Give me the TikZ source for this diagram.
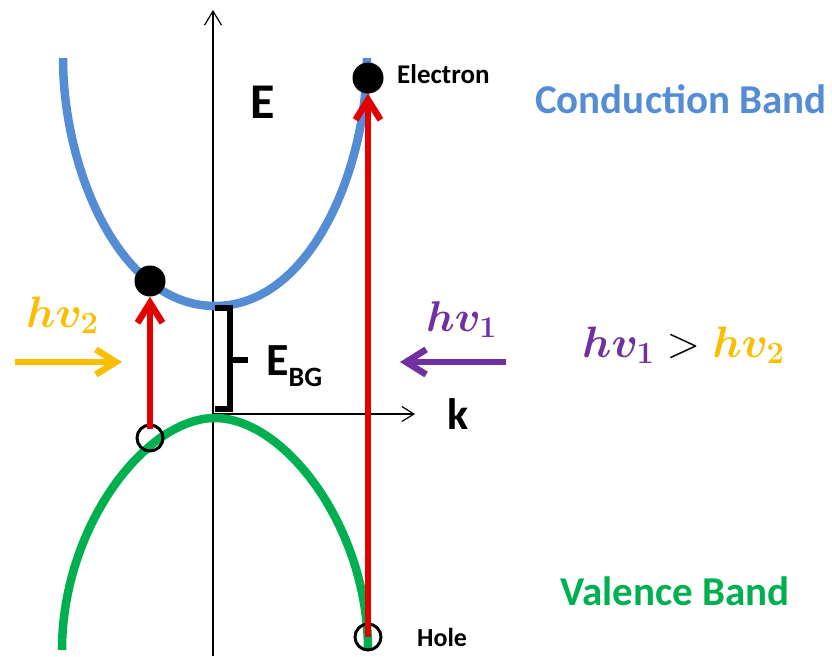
\RequirePackage{fix-cm}
\documentclass[tikz,border=0pt]{standalone}
\usepackage{fontspec}
\usepackage{amsmath}
\newfontfamily\calib{Carlito}
\usetikzlibrary{arrows.meta}
\definecolor{cbblue}{RGB}{84,141,212}
\definecolor{vbgreen}{RGB}{0,176,80}
\definecolor{arrred}{RGB}{226,0,0}
\definecolor{orng}{RGB}{250,190,0}
\definecolor{purp}{RGB}{112,48,160}
\begin{document}
\begin{tikzpicture}[x=1pt,y=-1pt,
  axisline/.style={line width=1.2pt},
  band/.style={line width=8.5pt},
  photon/.style={line width=6.5pt, arrred, -{Straight Barb[length=20pt,width=25pt]}},
  light/.style={line width=6.5pt, -{Straight Barb[length=20pt,width=25pt]}},
  dotnode/.style={circle, fill=black, inner sep=0pt, minimum size=31pt},
  holenode/.style={circle, draw=black, line width=3pt, inner sep=0pt, minimum size=26pt},
  sanslabel/.style={font=\calib\bfseries, inner sep=0pt, anchor=base west},
  mathlabel/.style={inner sep=0pt, anchor=base west}
]
\useasboundingbox (0,0) rectangle (832,656);

% axes
\coordinate (ybot) at (213,656);
\coordinate (ytop) at (213,10);
\coordinate (origin) at (213,414);
\coordinate (xend) at (415,414);
\draw[axisline, -{Straight Barb[length=14pt,width=17pt]}] (ybot) -- (ytop);
\draw[axisline, -{Straight Barb[length=12pt,width=15pt]}] (origin) -- (xend);

% bands
\draw[band, cbblue] (63,58) .. controls (63,170) and (120,306) .. (215,306)
                      .. controls (310,306) and (367,170) .. (367,58);
\draw[band, vbgreen] (62,650) .. controls (62,528) and (145,418) .. (215,418)
                      .. controls (285,418) and (368,528) .. (368,650);

% band gap bracket
\draw[line width=5.5pt, line join=miter] (215,308) -- (230,308) -- (230,409) -- (215,409);
\draw[line width=5.5pt] (230,360) -- (248,360);

% electrons and holes
\node[dotnode] (e2) at (150,281) {};
\node[dotnode] (e1) at (368,78) {};
\node[holenode] (h2) at (150,438) {};
\node[holenode] (h1) at (368,637) {};

% transitions
\draw[photon, shorten <=9pt] (h2.center) -- (e2.south);
\draw[photon] (h1.center) -- (e1.south);

% incoming light
\coordinate (l2a) at (15,362);
\coordinate (l2b) at (122,362);
\coordinate (l1a) at (506,362);
\coordinate (l1b) at (400,362);
\draw[light, orng] (l2a) -- (l2b);
\draw[light, purp] (l1a) -- (l1b);

% labels
\node[sanslabel, font=\calib\bfseries\fontsize{50}{50}\selectfont] (Elab) at (250,118) {E};
\node[sanslabel, font=\calib\bfseries\fontsize{44}{44}\selectfont] (klab) at (447,429) {k};
\node[sanslabel] (EBG) at (266,375) {\fontsize{46}{46}\selectfont E\raisebox{-11pt}{\fontsize{28}{28}\selectfont BG}};
\node[sanslabel, font=\calib\bfseries\fontsize{27}{27}\selectfont] (elab) at (397,83) {Electron};
\node[sanslabel, font=\calib\bfseries\fontsize{26}{26}\selectfont] (hlab) at (417,646) {Hole};
\node[sanslabel, font=\calib\bfseries\fontsize{41}{41}\selectfont, text=cbblue] (cb) at (535,113) {Conduction Band};
\node[sanslabel, font=\calib\bfseries\fontsize{41}{41}\selectfont, text=vbgreen] (vb) at (560,605) {Valence Band};
\node[mathlabel, font=\fontsize{44}{44}\selectfont, text=orng] (hv2) at (26,327) {$\boldsymbol{hv_2}$};
\node[mathlabel, font=\fontsize{43}{43}\selectfont, text=purp] (hv1) at (426,331) {$\boldsymbol{hv_1}$};
\node[mathlabel, font=\fontsize{44}{44}\selectfont] (cmp) at (582,357)
  {$\textcolor{purp}{\boldsymbol{hv_1}} > \textcolor{orng}{\boldsymbol{hv_2}}$};
\end{tikzpicture}
\end{document}
